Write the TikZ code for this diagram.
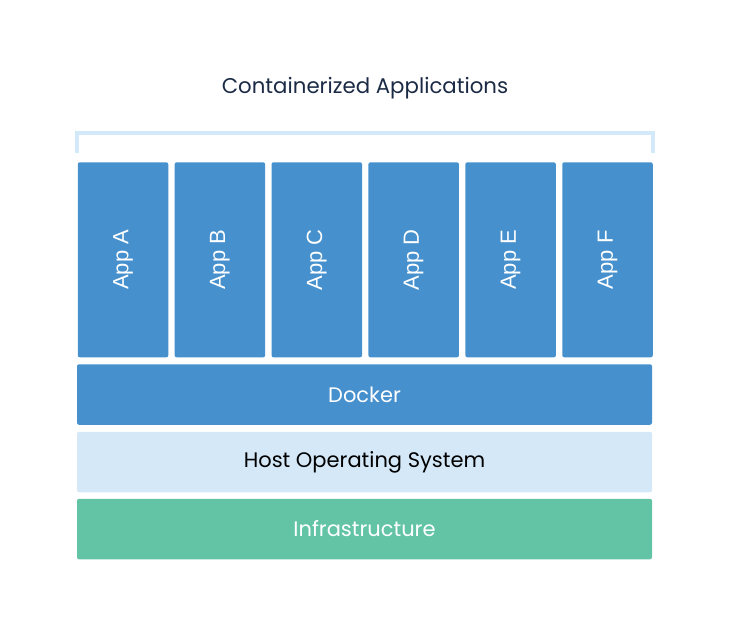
\documentclass[tikz,border=0pt]{standalone}
\usepackage{fontspec}
\setmainfont{Poppins}
\newfontfamily\appfont{Liberation Sans}
\usepackage{tikz}
\usetikzlibrary{positioning}

\definecolor{appblue}{HTML}{4590CD}
\definecolor{hostblue}{HTML}{D4E8F8}
\definecolor{infragreen}{HTML}{62C4A5}
\definecolor{bracketblue}{HTML}{D2E9F9}
\definecolor{titlenavy}{HTML}{1C2B45}

\begin{document}
\begin{tikzpicture}[x=1pt, y=-1pt,
        appbox/.style={fill=appblue, rounded corners=2pt, rotate=90,
            minimum width=195pt, minimum height=90.5pt, inner sep=0pt,
            text=white, font=\appfont\fontsize{22}{24}\selectfont},
        layerbox/.style={rounded corners=2pt, minimum width=575pt,
            minimum height=60.5pt, inner sep=0pt,
            font=\fontsize{21}{24}\selectfont}]
        \useasboundingbox (0,0) rectangle (730,632);

        \node[text=titlenavy, font=\fontsize{21.3}{24}\selectfont]
        (title) at (365,88.5) {Containerized Applications};

        \draw[bracketblue, line width=4pt]
        (77,153) -- (77,133) -- (652.5,133) -- (652.5,153);

        \foreach \i/\l in {0/A, 1/B, 2/C, 3/D, 4/E, 5/F}
        {
            \node[appbox] (app\l) at (123+\i*96.9, 259.8) {App \l};
        }

        \node[layerbox, fill=appblue, text=white]
        (docker) at (364.5,394.5) {Docker};

        \node[layerbox, fill=hostblue, text=black]
        (host) at (364.5,462) {\raisebox{-1.5pt}{Host Operating System}};

        \node[layerbox, fill=infragreen, text=white]
        (infra) at (364.5,529) {Infrastructure};
\end{tikzpicture}
\end{document}
